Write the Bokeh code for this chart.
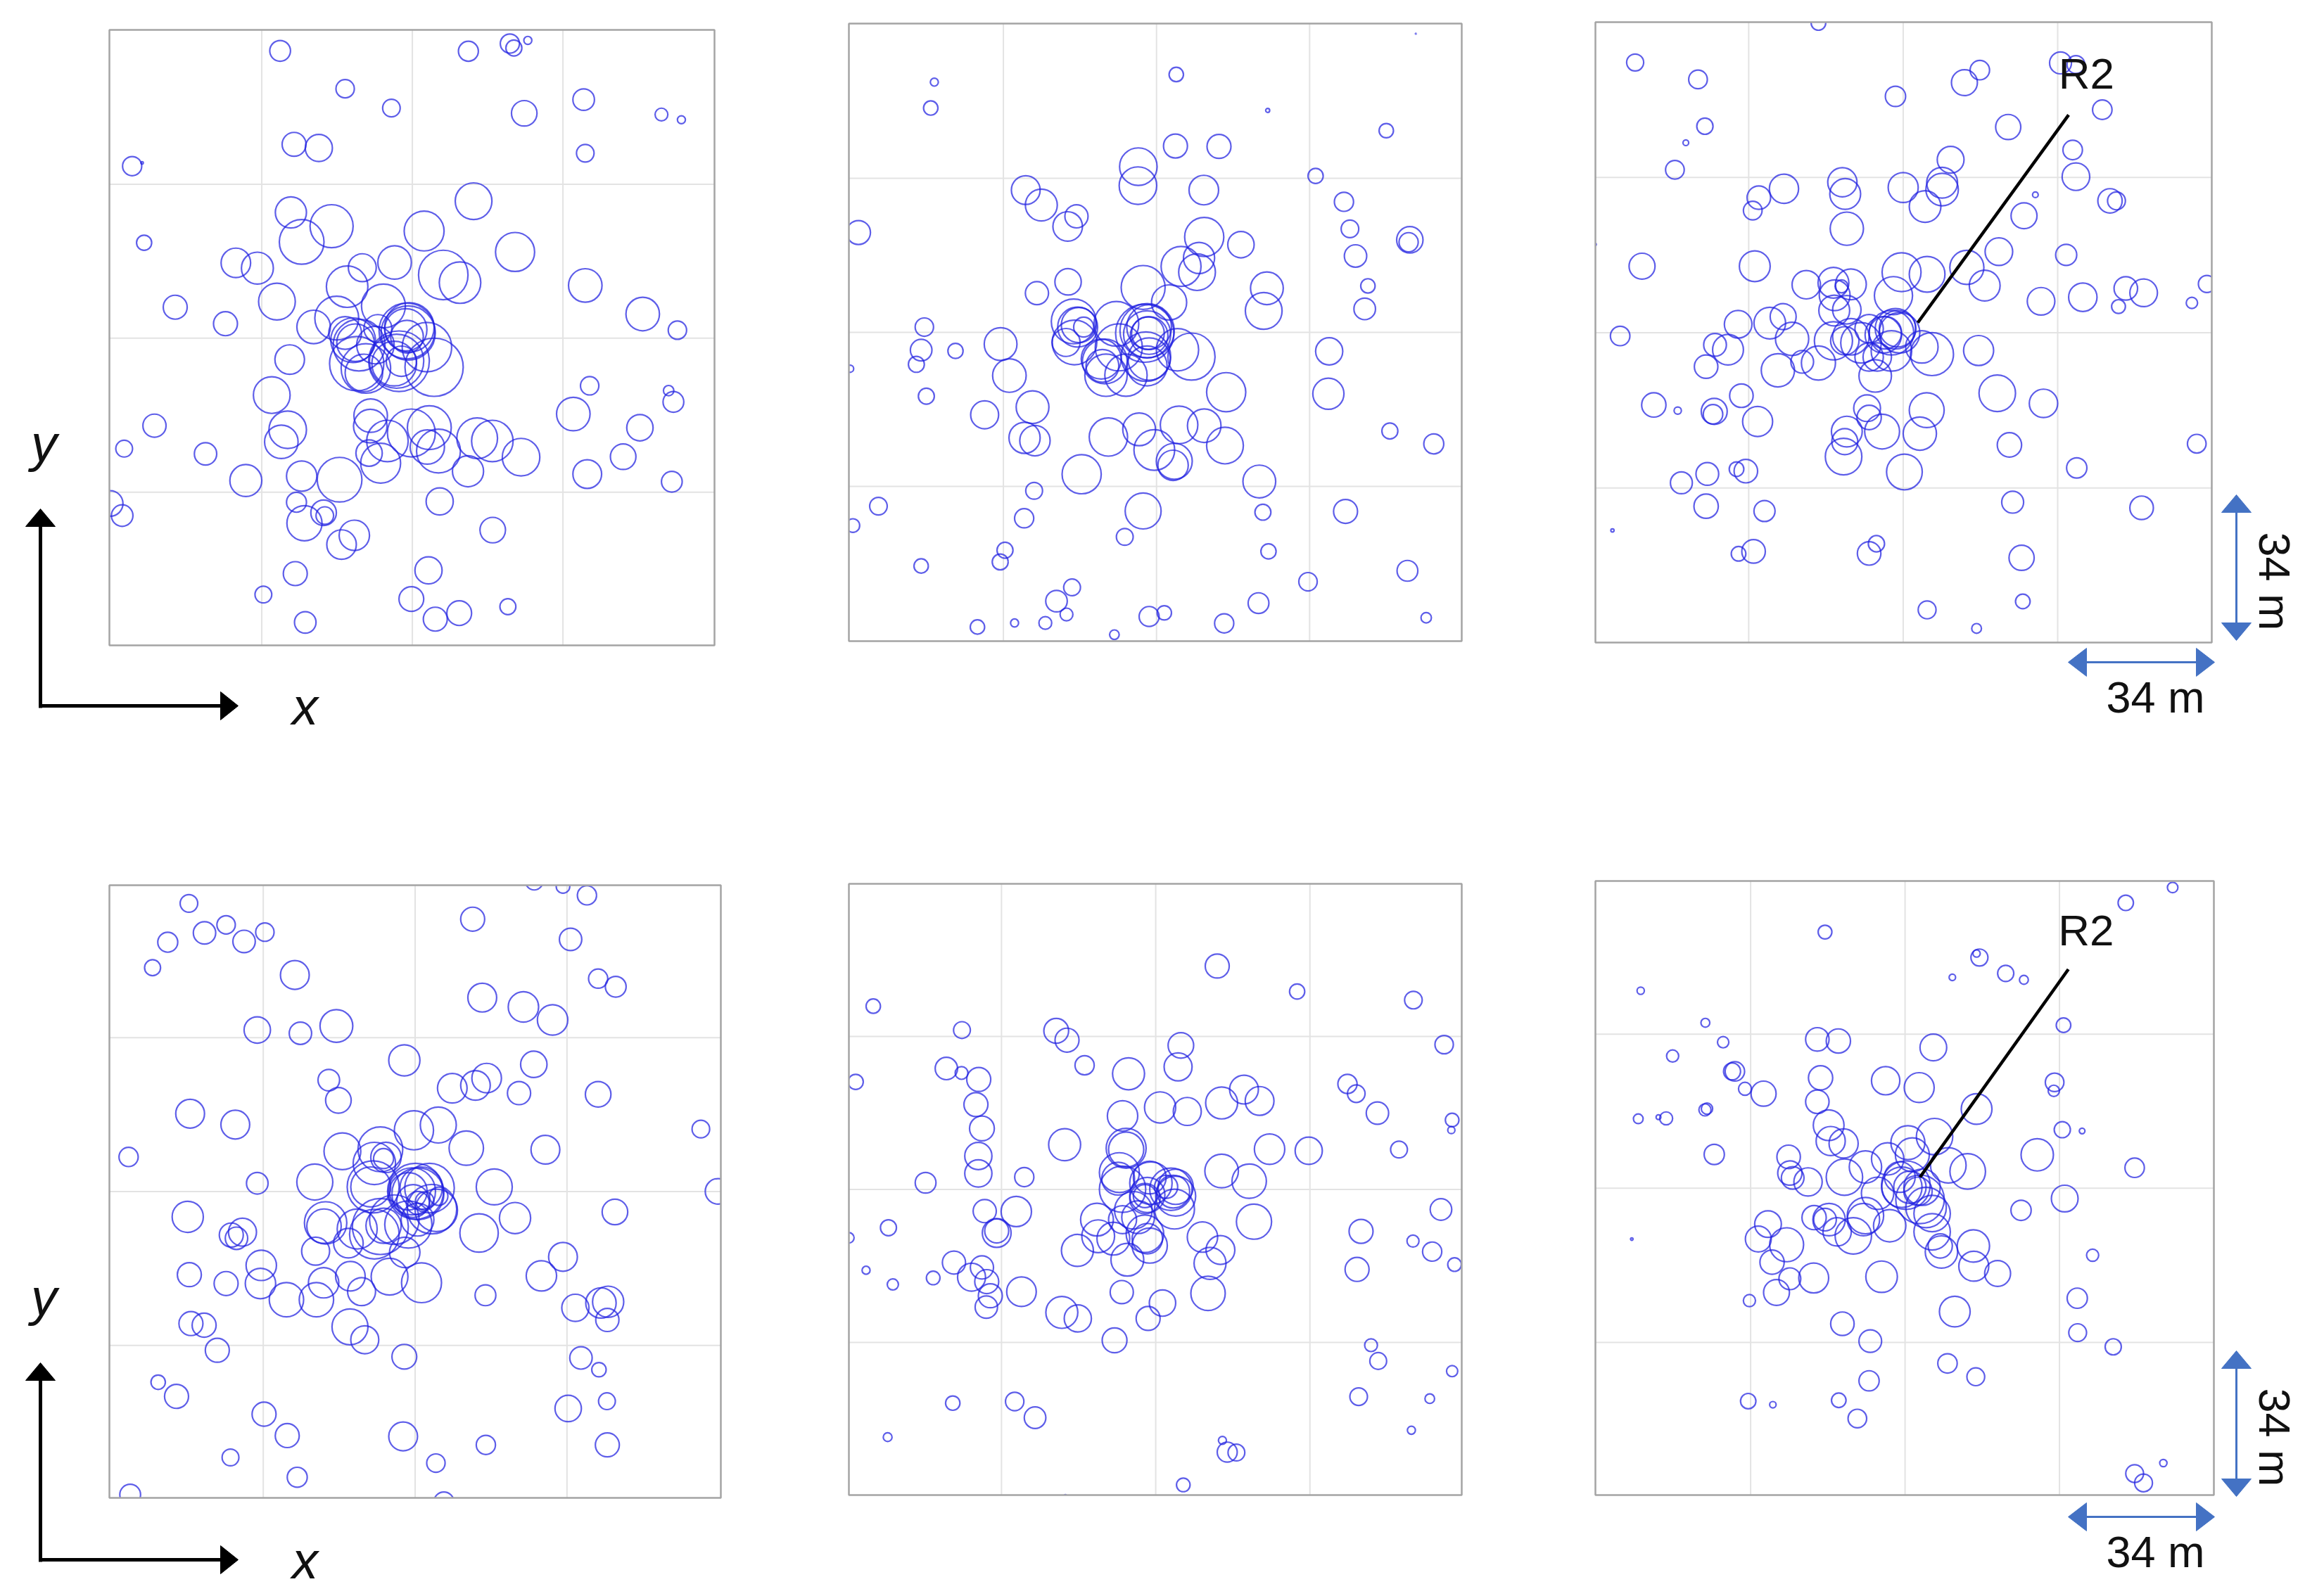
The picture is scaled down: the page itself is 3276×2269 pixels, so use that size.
from bokeh.plotting import figure
from bokeh.models import Range1d, Label
from bokeh.embed import file_html
from bokeh.resources import INLINE

# Tree crowns: (x, y, radius) in digitising units of each panel.
P1_RINGS = [(446,72,26),(609,166,23),(725,214,22),(918,73,25),(1022,54,24),(1032,65,20),(1067,46,10),(1058,227,32),(1207,193,27),(1402,230,16),(1452,243,10),(1211,326,22),(481,304,30),(543,313,34),(75,358,24),(100,350,3),(105,548,19),(473,473,39),(575,507,54),(500,546,56),(931,445,46),(807,519,50),(1035,571,49),(335,598,37),(389,611,40),(652,610,35),(733,597,42),(855,628,62),(897,647,52),(614,657,52),(1211,654,42),(438,694,46),(705,705,55),(183,708,30),(1355,725,42),(588,735,55),(309,749,30),(530,757,42),(1442,765,23),(764,767,70),(770,758,62),(761,764,53),(767,772,68),(764,781,41),(738,842,68),(732,848,56),(744,842,76),(750,842,38),(832,857,73),(814,807,62),(629,790,56),(635,796,47),(644,802,65),(609,772,41),(638,848,68),(656,871,47),(661,860,62),(691,761,35),(685,802,47),(470,838,37),(425,926,46),(1222,903,23),(1420,915,13),(1432,943,26),(673,977,42),(672,1003,42),(465,1012,47),(449,1042,42),(131,1002,29),(1181,973,42),(1348,1007,33),(775,1020,60),(820,1007,55),(940,1033,51),(978,1040,52),(715,1040,52),(55,1059,21),(259,1072,28),(669,1070,33),(698,1095,50),(815,1055,43),(843,1065,55),(1050,1080,47),(1306,1079,32),(917,1115,39),(1216,1122,36),(500,1127,38),(360,1138,40),(595,1136,56),(1428,1141,26),(20,1195,32),(846,1190,34),(487,1192,25),(50,1225,27),(555,1218,32),(558,1225,22),(507,1244,44),(632,1274,38),(600,1297,37),(979,1261,32),(484,1369,30),(818,1361,34),(404,1421,21),(775,1432,31),(895,1467,31),(835,1482,30),(1017,1451,20),(509,1490,27)]

P2_RINGS = [(1438,42,1),(838,143,18),(232,162,10),(223,226,18),(1067,232,5),(1364,282,18),(836,320,30),(945,321,30),(743,371,47),(742,418,47),(1187,394,19),(461,429,36),(907,429,37),(500,466,40),(1258,458,24),(588,494,29),(566,519,37),(42,534,30),(1273,525,22),(908,545,49),(1000,564,33),(1423,552,33),(1420,558,24),(1287,592,28),(895,597,39),(850,618,50),(890,632,46),(567,656,33),(1318,666,18),(1065,672,41),(489,684,29),(755,670,55),(820,707,44),(1057,728,46),(1310,723,27),(207,768,23),(581,754,56),(591,768,50),(606,768,25),(594,763,44),(562,806,35),(583,806,56),(765,777,68),(770,768,56),(759,783,73),(770,789,47),(767,783,41),(765,786,59),(662,887,53),(712,887,53),(650,847,50),(659,853,56),(653,864,41),(762,841,62),(770,847,53),(688,760,56),(694,818,59),(841,824,53),(876,841,59),(765,864,50),(398,810,41),(199,825,27),(285,827,19),(1221,828,34),(187,860,20),(420,888,42),(21,871,9),(212,939,20),(963,929,49),(1219,933,39),(478,966,41),(358,985,35),(745,1021,41),(668,1040,48),(845,1010,47),(908,1012,42),(458,1042,39),(484,1049,38),(960,1061,46),(1373,1025,20),(1483,1057,25),(783,1072,51),(833,1100,45),(830,1110,38),(601,1132,49),(1046,1150,41),(482,1173,21),(92,1211,22),(755,1223,45),(457,1241,24),(1055,1226,20),(1262,1224,30),(28,1259,17),(709,1287,21),(409,1320,20),(1069,1323,19),(397,1349,20),(199,1359,18),(1417,1371,26),(577,1412,21),(1168,1398,23),(538,1446,27),(1044,1451,26),(563,1479,16),(770,1484,25),(808,1475,18),(433,1500,10),(510,1500,16),(340,1510,18),(958,1501,24),(1464,1487,13),(683,1529,12)]

P3_RINGS = [(575,22,18),(123,120,21),(278,162,23),(765,204,25),(935,170,32),(973,139,24),(1172,121,27),(1210,125,22),(1275,237,24),(295,278,20),(1043,280,31),(248,319,7),(1202,337,24),(901,361,33),(221,386,23),(490,433,36),(634,417,36),(641,446,38),(784,430,37),(880,418,38),(880,435,40),(1210,403,34),(428,455,29),(838,477,39),(1110,448,7),(1294,463,30),(1310,463,22),(413,487,23),(1082,500,32),(645,532,41),(24,571,3),(1186,597,26),(140,625,32),(418,625,38),(1020,589,34),(780,640,48),(843,645,44),(941,628,42),(545,671,35),(612,666,38),(655,670,38),(985,673,38),(632,675,16),(1533,669,21),(1333,680,29),(1377,691,34),(1227,702,35),(1124,712,34),(1315,725,17),(1496,716,14),(760,698,47),(615,697,38),(614,735,38),(645,733,35),(488,750,32),(455,766,39),(377,769,34),(86,798,24),(765,780,50),(770,780,45),(755,790,55),(740,790,40),(775,790,50),(735,795,45),(700,780,35),(655,800,45),(640,810,35),(612,810,47),(680,815,50),(510,805,41),(320,820,28),(352,832,38),(970,834,37),(830,825,40),(855,843,53),(755,835,50),(720,850,35),(700,850,35),(535,862,28),(575,865,42),(298,874,29),(475,883,41),(715,897,40),(385,946,29),(1016,940,45),(842,982,43),(1130,965,35),(169,969,30),(228,983,9),(318,985,32),(315,992,24),(695,977,33),(700,1000,30),(425,1010,37),(732,1035,43),(825,1040,41),(645,1035,38),(640,1060,32),(637,1097,45),(1046,1068,30),(1508,1065,23),(787,1135,44),(396,1133,29),(373,1128,18),(1212,1125,25),(301,1140,28),(237,1162,27),(1054,1210,27),(298,1220,30),(1372,1224,29),(442,1232,26),(67,1280,4),(415,1332,29),(378,1338,18),(718,1313,20),(700,1337,29),(1076,1348,31),(1079,1456,18),(843,1477,22),(965,1523,12)]

P4_RINGS = [(1083,5,22),(1155,18,17),(1215,40,24),(219,60,22),(312,113,23),(409,131,23),(258,133,28),(357,154,28),(166,156,25),(929,99,30),(1174,149,28),(128,219,20),(484,237,36),(1243,246,24),(1287,266,26),(953,293,36),(1056,316,38),(1129,348,38),(390,373,33),(588,363,41),(498,381,28),(758,448,39),(1082,458,33),(569,497,27),(964,492,37),(936,510,37),(878,517,37),(1045,529,29),(593,547,32),(1243,532,32),(222,580,36),(335,607,36),(1500,618,22),(782,621,49),(843,608,45),(1111,669,36),(603,673,46),(913,665,43),(698,668,56),(683,703,53),(712,688,38),(706,691,25),(680,761,65),(674,761,50),(68,687,24),(1543,772,32),(534,749,45),(983,761,45),(390,752,27),(786,772,70),(777,772,59),(792,778,65),(821,764,62),(800,764,53),(768,772,47),(780,796,41),(792,801,29),(809,796,23),(844,784,23),(838,819,53),(827,816,62),(791,842,41),(1285,823,32),(216,835,39),(1035,838,39),(561,850,53),(557,858,43),(706,857,44),(733,842,62),(698,859,70),(768,854,59),(683,878,62),(640,865,50),(945,875,48),(353,873,35),(325,880,30),(338,888,28),(618,900,37),(536,920,35),(759,923,38),(400,955,38),(1155,934,36),(623,982,37),(721,983,46),(220,978,30),(556,998,38),(1101,981,38),(801,998,50),(398,1000,38),(312,1000,30),(651,1020,35),(961,1029,26),(463,1040,43),(538,1040,43),(1186,1060,34),(1250,1048,38),(1268,1045,39),(1266,1090,29),(622,1107,45),(224,1099,30),(257,1103,30),(659,1139,35),(758,1181,31),(290,1165,30),(1200,1184,28),(1245,1213,18),(142,1244,18),(188,1279,30),(1265,1291,21),(1168,1309,33),(407,1323,30),(465,1376,30),(755,1378,36),(962,1399,24),(1266,1399,30),(323,1430,21),(837,1444,23),(490,1479,25),(72,1522,26),(857,1540,25)]

P5_RINGS = [(940,216,30),(1140,279,19),(1431,300,22),(79,315,18),(301,374,21),(537,376,31),(564,399,30),(1508,410,23),(849,412,32),(608,461,24),(842,465,35),(718,482,40),(262,469,28),(300,480,16),(343,496,30),(35,502,19),(1266,507,24),(1288,531,22),(1007,521,36),(951,554,40),(1046,549,36),(797,565,39),(865,575,35),(336,558,30),(703,586,38),(1341,579,28),(1528,596,17),(1526,621,9),(351,617,31),(558,657,40),(1071,668,38),(1169,672,34),(1395,669,21),(342,685,34),(951,722,42),(342,728,34),(457,737,24),(210,751,26),(1020,747,43),(712,666,50),(712,669,44),(692,741,41),(695,726,50),(703,767,58),(771,738,41),(774,752,53),(759,790,38),(765,781,44),(759,784,29),(836,761,44),(824,767,53),(836,784,50),(830,773,41),(833,816,50),(812,761,29),(730,819,47),(759,877,47),(771,906,44),(765,889,38),(715,941,41),(680,889,41),(642,883,41),(639,842,41),(703,842,35),(742,836,41),(358,821,29),(437,822,38),(1500,817,27),(1032,847,44),(117,862,20),(388,875,36),(388,870,30),(1300,871,30),(18,887,13),(1430,895,15),(903,885,38),(590,918,40),(948,917,36),(1478,921,24),(922,950,40),(281,948,29),(1534,953,17),(351,960,29),(1290,965,30),(61,967,10),(325,984,35),(363,995,30),(229,986,17),(128,1002,14),(372,1030,30),(917,1024,43),(450,1020,37),(701,1021,29),(362,1058,28),(803,1048,33),(551,1071,40),(591,1086,34),(767,1086,30),(683,1140,31),(1325,1152,16),(1343,1191,21),(1528,1216,14),(1294,1279,22),(278,1295,18),(433,1291,23),(1472,1284,12),(484,1331,27),(115,1379,11),(1426,1362,10),(953,1387,10),(965,1416,25),(988,1417,21),(855,1497,17),(560,1524,3)]

P6_RINGS = [(1450,30,13),(1334,68,19),(590,140,17),(965,193,9),(972,203,21),(1037,242,20),(1082,258,11),(905,252,8),(134,285,9),(294,364,11),(1180,370,18),(338,412,14),(571,405,29),(623,409,30),(858,425,33),(213,446,15),(360,484,21),(367,484,24),(579,500,30),(740,507,35),(823,524,37),(1158,511,23),(1156,532,14),(392,527,16),(438,539,31),(571,559,29),(965,577,38),(298,576,14),(293,579,15),(128,601,12),(178,597,6),(197,600,16),(599,617,38),(1177,628,20),(1226,631,7),(604,656,36),(636,662,36),(861,645,45),(795,660,42),(500,695,29),(316,689,25),(1115,690,40),(806,690,42),(745,700,40),(895,716,44),(690,720,40),(1356,722,24),(943,731,44),(503,735,30),(510,747,28),(638,745,45),(548,757,35),(775,745,38),(780,770,50),(790,765,60),(800,770,40),(820,780,35),(830,770,45),(825,800,60),(840,820,50),(855,835,45),(720,785,40),(1183,798,33),(1075,827,25),(690,840,45),(685,850,40),(563,845,30),(600,850,40),(590,850,28),(750,865,40),(449,861,33),(855,880,45),(620,880,35),(660,890,45),(425,898,32),(495,912,42),(875,915,30),(878,930,40),(112,898,3),(957,915,40),(1252,938,15),(459,955,30),(958,965,37),(1017,983,32),(503,996,27),(730,991,39),(562,994,37),(470,1030,32),(1214,1044,25),(403,1050,15),(911,1077,38),(633,1107,29),(702,1150,28),(1215,1129,22),(1303,1164,20),(893,1205,24),(963,1238,22),(699,1248,25),(400,1298,19),(461,1307,8),(624,1296,18),(670,1341,23),(1427,1451,9),(1356,1477,22),(1378,1500,22)]

GRID_M = [-34, 0, 34]
R2_LABEL = "R2"
SCALE_LABEL = "34 m"

# Panel calibration: page box (left, right, top, bottom), then digitised frame and grid lines
PANELS = [
    dict(name="p1", rings=P1_RINGS, box=(155,1015,42,917),   u=(18,1535), v=(20,1547), gu=(400,1155), gv=(403,1167)),
    dict(name="p2", rings=P2_RINGS, box=(1206,2077,33,911),  u=(18,1553), v=(17,1545), gu=(405,1172), gv=(400,1162)),
    dict(name="p3", rings=P3_RINGS, box=(2267,3143,31,913),  u=(25,1545), v=(20,1558), gu=(403,1165), gv=(405,1175)),
    dict(name="p4", rings=P4_RINGS, box=(155,1024,1258,2129),u=(20,1550), v=(15,1530), gu=(405,1165), gv=(392,1153)),
    dict(name="p5", rings=P5_RINGS, box=(1206,2077,1256,2125),u=(18,1552), v=(13,1522), gu=(400,1172), gv=(390,1145)),
    dict(name="p6", rings=P6_RINGS, box=(2267,3146,1252,2125),u=(22,1552), v=(14,1530), gu=(406,1170), gv=(392,1153)),
]
LEADERS = {"p3": ((1192,820),(250,765),(1236,148)), "p6": ((1192,825),(232,745),(1236,135))}

W, H = 3270, 2262
X0, X1, Y0, Y1 = 0, W, H, 0
p = figure(width=W, height=H, x_range=Range1d(X0, X1), y_range=Range1d(Y0, Y1),
           output_backend="svg", toolbar_location=None, min_border=0)
p.axis.visible = False
p.grid.visible = False
p.outline_line_color = None
p.background_fill_color = "white"

GRID_COL = "#e3e3e3"
RING_COL = "#2020e0"
BORDER_COL = "#a4a4a4"
BLUE = "#4472c4"

for P in PANELS:
    L, R, T, B = P["box"]
    (u0, u1), (v0, v1) = P["u"], P["v"]
    (gu0, gu1), (gv0, gv1) = P["gu"], P["gv"]
    cu, cv = (gu0 + gu1) / 2, (gv0 + gv1) / 2
    su, sv = 34 / ((gu1 - gu0) / 2), 34 / ((gv1 - gv0) / 2)
    to_x = lambda a, cu=cu, su=su: (a - cu) * su
    to_y = lambda a, cv=cv, sv=sv: (cv - a) * sv
    xmin, xmax, ytop, ybot = to_x(u0), to_x(u1), to_y(v0), to_y(v1)
    kx = (xmax - xmin) / (R - L)
    ky = (ytop - ybot) / (B - T)
    n = P["name"]
    p.extra_x_ranges[n] = Range1d(xmin + (X0 - L) * kx, xmin + (X1 - L) * kx)
    p.extra_y_ranges[n] = Range1d(ytop - (Y0 - T) * ky, ytop - (Y1 - T) * ky)
    P["conv"] = (to_x, to_y)

    p.segment(x0=GRID_M, x1=GRID_M, y0=[ybot]*3, y1=[ytop]*3, line_color=GRID_COL, line_width=2,
              x_range_name=n, y_range_name=n)
    p.segment(x0=[xmin]*3, x1=[xmax]*3, y0=GRID_M, y1=GRID_M, line_color=GRID_COL, line_width=2,
              x_range_name=n, y_range_name=n)
    us, vs, rs = zip(*P["rings"])
    p.circle(x=[to_x(a) for a in us], y=[to_y(a) for a in vs], radius=[r * su for r in rs],
             fill_color=None, line_color=RING_COL, line_width=2.2, line_alpha=0.72,
             x_range_name=n, y_range_name=n)

# White surround so rings stop at each panel's frame
M = 70
for P in PANELS:
    L, R, T, B = P["box"]
    p.quad(left=[L-M, R, L-M, L-M], right=[L, R+M, R+M, R+M],
           top=[T-M, T-M, T-M, B], bottom=[B+M, B+M, T, B+M],
           fill_color="white", line_color=None)
    p.quad(left=[L], right=[R], top=[T], bottom=[B], fill_color=None,
           line_color=BORDER_COL, line_width=2.5)

# R2 leaders
for P in PANELS:
    if P["name"] in LEADERS:
        (ua, ub), (va, vb), (ut, vt) = LEADERS[P["name"]]
        to_x, to_y = P["conv"]
        n = P["name"]
        p.line(x=[to_x(ua), to_x(ub)], y=[to_y(va), to_y(vb)], line_color="black", line_width=4.5,
               x_range_name=n, y_range_name=n)
        p.add_layout(Label(x=to_x(ut), y=to_y(vt), text=R2_LABEL, text_font="Liberation Sans",
                           text_font_size="62px", text_color="#111111", text_align="center",
                           text_baseline="middle", x_range_name=n, y_range_name=n))

def head(tx, ty, dx, dy, length, half, color):
    bx, by = tx - dx * length, ty - dy * length
    p.patch(x=[tx, bx - dy * half, bx + dy * half], y=[ty, by + dx * half, by - dx * half],
            fill_color=color, line_color=color, line_width=1)

def label(x, y, text, size="63px", style="normal", angle=0.0):
    p.add_layout(Label(x=x, y=y, text=text, text_font="Liberation Sans", text_font_size=size,
                       text_font_style=style, text_color="#111111", text_align="center",
                       text_baseline="middle", angle=angle, angle_units="deg"))

for dy in (0, 1214):
    p.line(x=[57, 57], y=[1006+dy, 745+dy], line_color="black", line_width=5)
    p.line(x=[55, 315], y=[1003+dy, 1003+dy], line_color="black", line_width=5)
    head(57, 723+dy, 0, -1, 25, 21, "black")
    head(338, 1003+dy, 1, 0, 25, 20, "black")
    label(62, 630+dy, "y", "74px", "italic")
    label(433, 1004+dy, "x", "74px", "italic")

for dy, dh in ((0, 0), (1217, 1215)):
    p.line(x=[3178, 3178], y=[725+dy, 888+dy], line_color=BLUE, line_width=3)
    head(3178, 703+dy, 0, -1, 25, 21, BLUE)
    head(3178, 910+dy, 0, 1, 25, 21, BLUE)
    p.line(x=[2962, 3124], y=[941+dh, 941+dh], line_color=BLUE, line_width=3)
    head(2939, 941+dh, -1, 0, 26, 20, BLUE)
    head(3147, 941+dh, 1, 0, 26, 20, BLUE)
    label(3063, 990+dh, SCALE_LABEL)
    label(3232, 826+dy, SCALE_LABEL, angle=-90)

open("out.html", "w").write(file_html(p, INLINE))
